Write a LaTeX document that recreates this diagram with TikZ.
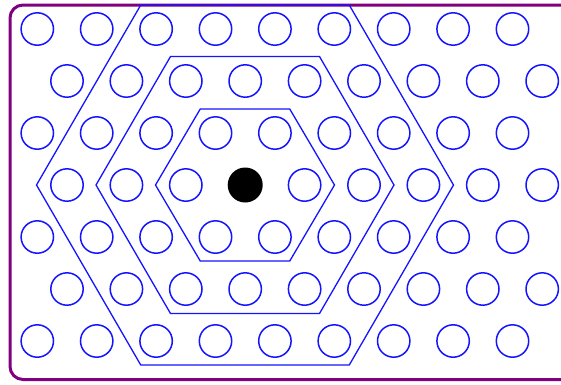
\documentclass[tikz,border=0pt]{standalone}
\definecolor{ringblue}{RGB}{20,20,255}
\definecolor{framepurple}{RGB}{128,0,128}
\begin{document}
\begin{tikzpicture}[x=1pt,y=-1pt,
  ring/.style={circle,draw=ringblue,line width=1.5pt,minimum size=32.4pt,inner sep=0pt},
  blackdot/.style={circle,fill=black,minimum size=35pt,inner sep=0pt},
  hexline/.style={draw=ringblue,line width=1.3pt,line join=miter},
  frameline/.style={draw=framepurple,line width=3pt,rounded corners=13pt}]
\useasboundingbox (0,0) rectangle (561,384);
\clip (0,0) rectangle (561,384);
\fill[white] (0,0) rectangle (561,384);
\draw[frameline] (10,5) rectangle (575,379.5);
\foreach \r in {0,...,6}{
  \foreach \k in {0,...,8}{
    \pgfmathsetmacro\xx{37.3+29.7*mod(\r,2)+59.4*\k}
    \pgfmathsetmacro\yy{29+52*\r}
    \pgfmathtruncatemacro\isc{and(\r==3,\k==3)}
    \ifnum\isc=1
      \node[blackdot] (c-\r-\k) at (\xx,\yy) {};
    \else
      \node[ring] (c-\r-\k) at (\xx,\yy) {};
    \fi
  }
}
\foreach \R/\h in {89.5/76, 149/128.5, 208.5/180}{
  \draw[hexline] (245-\R,185) -- (245-\R/2,185-\h) -- (245+\R/2,185-\h)
    -- (245+\R,185) -- (245+\R/2,185+\h) -- (245-\R/2,185+\h) -- cycle;
}
\end{tikzpicture}
\end{document}
